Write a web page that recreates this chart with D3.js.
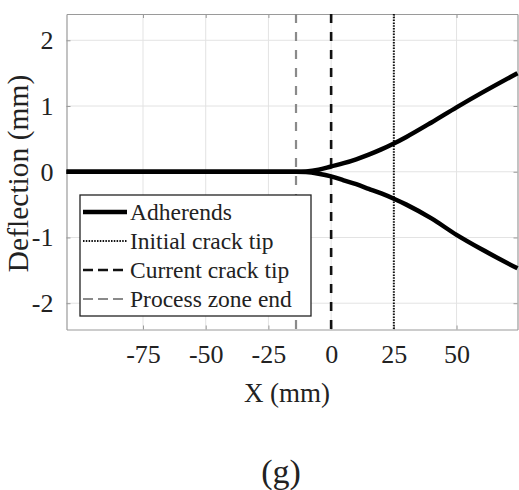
<!DOCTYPE html>
<html>
<head>
<meta charset="utf-8">
<script src="https://cdn.jsdelivr.net/npm/d3@7"></script>
<style>
  body { margin: 0; background: #fff; }
  svg text { font-family: "Liberation Serif", "Times New Roman", serif; fill: #222; }
</style>
</head>
<body>
<div id="chart"></div>
<script>
// data
var xTicks = [-75, -50, -25, 0, 25, 50];
var yTicks = [-2, -1, 0, 1, 2];
var xs = [-105.5, -20, -14, -10, -5, 0, 5, 10, 15, 20, 25, 30, 40, 50, 60, 74.3];
var upper = [0, 0, 0, 0.005, 0.03, 0.08, 0.13, 0.19, 0.26, 0.34, 0.43, 0.53, 0.75, 0.98, 1.2, 1.5];
var lower = [0, 0, 0, -0.005, -0.03, -0.07, -0.13, -0.19, -0.26, -0.33, -0.41, -0.5, -0.71, -0.96, -1.18, -1.47];
var initialTip = 25;
var currentTip = 0;
var zoneEnd = -14;
var legendLabels = ["Adherends", "Initial crack tip", "Current crack tip", "Process zone end"];

var W = 519, H = 490;
var pLeft = 66.5, pRight = 517.5, pTop = 14, pBottom = 329.5;

var svg = d3.select("#chart")
  .append("svg")
  .attr("width", W)
  .attr("height", H);

var x = d3.scaleLinear().domain([-105.5, 74.3]).range([pLeft, pRight]);
var y = d3.scaleLinear().domain([-2.4, 2.4]).range([pBottom, pTop]);

// grid
svg.append("g").selectAll("line")
  .data(xTicks).enter().append("line")
  .attr("x1", d => x(d)).attr("x2", d => x(d))
  .attr("y1", pTop).attr("y2", pBottom)
  .style("stroke", "#e3e3e3").style("stroke-width", 1);

svg.append("g").selectAll("line")
  .data(yTicks).enter().append("line")
  .attr("x1", pLeft).attr("x2", pRight)
  .attr("y1", d => y(d)).attr("y2", d => y(d))
  .style("stroke", "#e3e3e3").style("stroke-width", 1);

// axes (ticks inside, MATLAB style)
var axColor = "#9a9a9a";
var xAxisB = svg.append("g").attr("transform", "translate(0," + pBottom + ")")
  .call(d3.axisBottom(x).tickValues(xTicks).tickSizeInner(-4).tickSizeOuter(0).tickPadding(15));
var xAxisT = svg.append("g").attr("transform", "translate(0," + pTop + ")")
  .call(d3.axisTop(x).tickValues(xTicks).tickSizeInner(-4).tickSizeOuter(0).tickFormat(""));
var yAxisL = svg.append("g").attr("transform", "translate(" + pLeft + ",0)")
  .call(d3.axisLeft(y).tickValues(yTicks).tickSizeInner(-4).tickSizeOuter(0).tickPadding(13));
var yAxisR = svg.append("g").attr("transform", "translate(" + pRight + ",0)")
  .call(d3.axisRight(y).tickValues(yTicks).tickSizeInner(-4).tickSizeOuter(0).tickFormat(""));

[xAxisB, xAxisT, yAxisL, yAxisR].forEach(function(g) {
  g.attr("font-family", "Liberation Serif");
  g.select(".domain").style("stroke", axColor).style("stroke-width", 1.2);
  g.selectAll(".tick line").style("stroke", axColor);
  g.selectAll(".tick text")
    .style("font-size", "26px")
    .style("fill", "#222");
});
xAxisB.selectAll(".tick text").text(d => d < 0 ? "-" + Math.abs(d) : d);
yAxisL.selectAll(".tick text").text(d => d < 0 ? "-" + Math.abs(d) : d);

// vertical markers
svg.append("line")
  .attr("x1", x(zoneEnd)).attr("x2", x(zoneEnd)).attr("y1", pTop).attr("y2", pBottom)
  .style("stroke", "#8a8a8a").style("stroke-width", 2.2).style("stroke-dasharray", "9,9");
svg.append("line")
  .attr("x1", x(currentTip)).attr("x2", x(currentTip)).attr("y1", pTop).attr("y2", pBottom)
  .style("stroke", "#111").style("stroke-width", 2.6).style("stroke-dasharray", "9,9");
svg.append("line")
  .attr("x1", x(initialTip)).attr("x2", x(initialTip)).attr("y1", pTop).attr("y2", pBottom)
  .style("stroke", "#111").style("stroke-width", 2).style("stroke-dasharray", "1.5,1.3");

// adherends
var line = d3.line().x((d, i) => x(xs[i])).y(d => y(d)).curve(d3.curveMonotoneX);
[upper, lower].forEach(function(s) {
  svg.append("path")
    .datum(s)
    .attr("d", line)
    .style("fill", "none")
    .style("stroke", "#000")
    .style("stroke-width", 4.5);
});

// legend
var lg = svg.append("g");
lg.append("rect")
  .attr("x", 80).attr("y", 195).attr("width", 231).attr("height", 121)
  .style("fill", "#fff").style("stroke", "#222").style("stroke-width", 1.3);
var legendStyles = [
  { color: "#000", width: 4.5, dash: null },
  { color: "#111", width: 2, dash: "1.5,1.3" },
  { color: "#111", width: 2.6, dash: "10,5" },
  { color: "#8a8a8a", width: 2.2, dash: "10,5" }
];
legendLabels.forEach(function(lab, i) {
  var cy = 212 + i * 29;
  var st = legendStyles[i];
  lg.append("line")
    .attr("x1", 83).attr("x2", 127).attr("y1", cy).attr("y2", cy)
    .style("stroke", st.color).style("stroke-width", st.width)
    .style("stroke-dasharray", st.dash);
  lg.append("text")
    .attr("x", 130).attr("y", cy + 8)
    .style("font-size", "23.5px")
    .text(lab);
});

// axis labels
svg.append("text")
  .attr("x", 287).attr("y", 402)
  .attr("text-anchor", "middle")
  .style("font-size", "27px")
  .text("X (mm)");

svg.append("text")
  .attr("transform", "translate(27.5,173.5) rotate(-90)")
  .attr("text-anchor", "middle")
  .style("font-size", "29.5px")
  .text("Deflection (mm)");

svg.append("text")
  .attr("x", 281).attr("y", 483)
  .attr("text-anchor", "middle")
  .style("font-size", "34px")
  .text("(g)");
</script>
</body>
</html>
